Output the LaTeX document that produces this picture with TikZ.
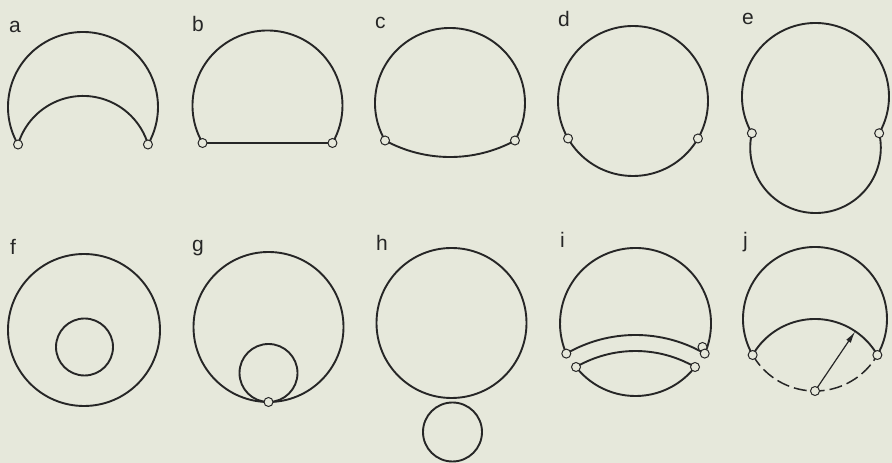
\documentclass[tikz,border=0pt]{standalone}
\usepackage{fontspec}
\newfontfamily\lblfont{Liberation Sans}
\usetikzlibrary{arrows.meta}
\definecolor{bg}{HTML}{E6E8DB}
\definecolor{ink}{HTML}{262626}
\tikzset{
  curve/.style={line width=1.9pt, draw=ink},
  dashcurve/.style={line width=1.5pt, draw=ink, dash pattern=on 13pt off 5pt},
  joint/.style={circle, draw=ink, fill=bg, line width=1pt, inner sep=0pt, minimum size=9pt},
  lbl/.style={anchor=base west, inner sep=0pt, text=ink, font=\lblfont\fontsize{21}{24}\selectfont},
  radiusarrow/.style={line width=1.2pt, draw=ink, -{Latex[length=12pt,width=5.5pt]}}
}
\begin{document}
\begin{tikzpicture}[x=1pt,y=1pt]
\useasboundingbox (0,0) rectangle (892,463);
\fill[bg] (0,0) rectangle (892,463);

% labels
\node[lbl] (la) at (9,430) {a};
\node[lbl] (lb) at (192,431) {b};
\node[lbl] (lc) at (375,434) {c};
\node[lbl] (ld) at (558,436) {d};
\node[lbl] (le) at (742,438) {e};
\node[lbl] (lf) at (10,208) {f};
\node[lbl] (lg) at (192,211) {g};
\node[lbl] (lh) at (376,212) {h};
\node[lbl] (li) at (560,215) {i};
\node[lbl] (lj) at (743,215) {j};

% ---- a ----
\coordinate (aL) at (18.05,318.5);
\coordinate (aR) at (147.95,318.5);
\draw[curve] (aL) arc[start angle=210, end angle=-30, radius=75];
\draw[curve] (aL) arc[start angle=163.5, end angle=16.5, radius=67.8];
\node[joint] (aLj) at (aL) {};
\node[joint] (aRj) at (aR) {};

% ---- b ----
\coordinate (bL) at (202.55,320);
\coordinate (bR) at (332.45,320);
\draw[curve] (bL) arc[start angle=210, end angle=-30, radius=75];
\draw[curve] (bL) -- (bR);
\node[joint] (bLj) at (bL) {};
\node[joint] (bRj) at (bR) {};

% ---- c ----
\coordinate (cL) at (385.05,322.5);
\coordinate (cR) at (514.95,322.5);
\draw[curve] (cL) arc[start angle=210, end angle=-30, radius=75];
\draw[curve] (cL) arc[start angle=241.5, end angle=298.5, radius=136.3];
\node[joint] (cLj) at (cL) {};
\node[joint] (cRj) at (cR) {};

% ---- d ----
\coordinate (dC) at (633,362);
\coordinate (dL) at (568.05,324.5);
\coordinate (dR) at (697.95,324.5);
\draw[curve] (dC) circle[radius=75];
\node[joint] (dLj) at (dL) {};
\node[joint] (dRj) at (dR) {};

% ---- e ----
\coordinate (eL) at (751.85,329.75);
\coordinate (eR) at (879.15,329.75);
\draw[curve] (eL) arc[start angle=210, end angle=-30, radius=73.5];
\draw[curve] (eL) arc[start angle=167.2, end angle=372.8, radius=65.3];
\node[joint] (eLj) at (eL) {};
\node[joint] (eRj) at (eR) {};

% ---- f ----
\coordinate (fC) at (84,133);
\coordinate (fc) at (84.5,116);
\draw[curve] (fC) circle[radius=76];
\draw[curve] (fc) circle[radius=28.5];

% ---- g ----
\coordinate (gC) at (268.5,136);
\coordinate (gc) at (268.5,90);
\coordinate (gT) at (268.5,61);
\draw[curve] (gC) circle[radius=75];
\draw[curve] (gc) circle[radius=29];
\node[joint] (gTj) at (gT) {};

% ---- h ----
\coordinate (hC) at (451.5,140);
\coordinate (hc) at (452.5,31);
\draw[curve] (hC) circle[radius=75];
\draw[curve] (hc) circle[radius=29.5];

% ---- i ----
\coordinate (iL) at (566.3,109.4);
\coordinate (iR) at (704.7,109.4);
\coordinate (iR2) at (702.5,116);
\draw[curve] (iL) arc[start angle=203.5, end angle=-23.5, radius=75.5];
\draw[curve] (iL) arc[start angle=120.1, end angle=59.9, radius=138];
\coordinate (iA) at (576,96);
\coordinate (iB) at (695,96);
\draw[curve] (iA) arc[start angle=120.1, end angle=59.9, radius=118.6];
\draw[curve] (iA) arc[start angle=218, end angle=322, radius=75.5];
\node[joint] (iLj) at (iL) {};
\node[joint] (iR2j) at (iR2) {};
\node[joint] (iRj) at (iR) {};
\node[joint] (iAj) at (iA) {};
\node[joint] (iBj) at (iB) {};

% ---- j ----
\coordinate (jL) at (752.65,108);
\coordinate (jR) at (877.35,108);
\coordinate (jB) at (815,72);
\coordinate (jT) at (855.3,131.7);
\draw[curve] (jL) arc[start angle=210, end angle=-30, radius=72];
\draw[curve] (jL) arc[start angle=150, end angle=30, radius=72];
\draw[dashcurve] (jL) arc[start angle=210, end angle=330, radius=72];
\draw[radiusarrow] (jB) -- (jT);
\node[joint] (jLj) at (jL) {};
\node[joint] (jRj) at (jR) {};
\node[joint] (jBj) at (jB) {};
\end{tikzpicture}
\end{document}
